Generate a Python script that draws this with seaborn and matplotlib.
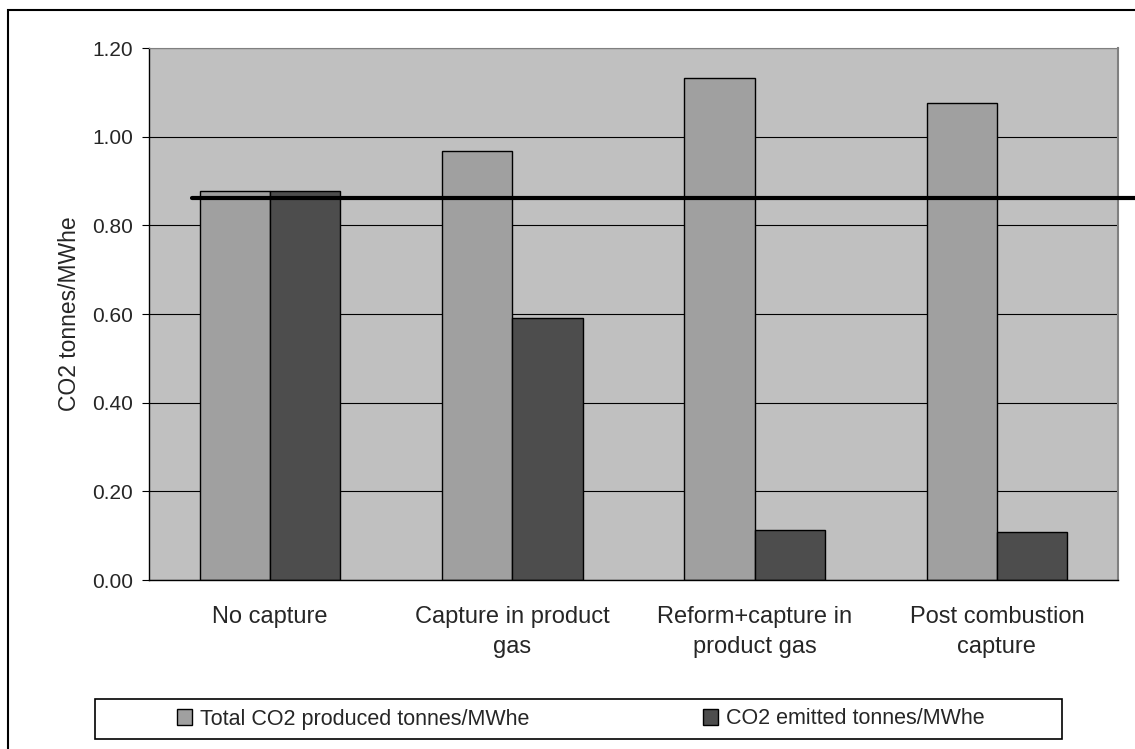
import matplotlib
matplotlib.use("Agg")
import matplotlib.pyplot as plt
import seaborn as sns
import pandas as pd
from matplotlib.patches import Rectangle

# Chart data
categories = ["No capture", "Capture in product\ngas", "Reform+capture in\nproduct gas", "Post combustion\ncapture"]
total_produced = [0.877, 0.968, 1.133, 1.077]
co2_emitted = [0.877, 0.591, 0.113, 0.108]
series_names = ["Total CO2 produced tonnes/MWhe", "CO2 emitted tonnes/MWhe"]
reference_level = 0.862
y_ticks = [0.0, 0.2, 0.4, 0.6, 0.8, 1.0, 1.2]

df = pd.DataFrame({
    "category": categories * 2,
    "value": total_produced + co2_emitted,
    "series": [series_names[0]] * len(categories) + [series_names[1]] * len(categories),
})

sns.set_style("white")
plt.rcParams["font.family"] = ["Liberation Sans", "DejaVu Sans"]

fig = plt.figure(figsize=(11.35, 7.49), dpi=100)
ax = fig.add_axes([149 / 1135, 1 - 580 / 749, 969 / 1135, 532 / 749])
ax.set_facecolor("#C0C0C0")

sns.barplot(data=df, x="category", y="value", hue="series", order=categories,
            hue_order=series_names, palette=["#A0A0A0", "#4D4D4D"],
            width=0.58, edgecolor="black", linewidth=1, saturation=1,
            ax=ax, legend=True)

ax.set_ylim(0, 1.2)
ax.set_xlim(-0.5, len(categories) - 0.5)
ax.set_yticks(y_ticks)
ax.set_yticklabels([f"{t:.2f}" for t in y_ticks], fontsize=15)
ax.yaxis.grid(True, color="black", linewidth=0.8)
ax.set_axisbelow(True)

# category boundaries as minor ticks
ax.set_xticks([i - 0.5 for i in range(len(categories) + 1)], minor=True)
ax.tick_params(axis="x", which="major", length=0, pad=19, labelsize=17)
for lbl in ax.get_xticklabels():
    lbl.set_linespacing(1.45)
ax.tick_params(axis="x", which="minor", length=7, width=0.8, color="black", direction="out")
ax.tick_params(axis="y", length=5, width=0.8, color="black", direction="out", left=True, pad=6.5)

ax.set_xlabel("")
ax.set_ylabel("CO2 tonnes/MWhe", fontsize=16.5, labelpad=8)

for side in ["left", "bottom"]:
    ax.spines[side].set_color("black")
    ax.spines[side].set_linewidth(1)
ax.spines["top"].set_color("#808080")
ax.spines["right"].set_color("#808080")
ax.spines["right"].set_linewidth(1.5)

# reference line
ax.axhline(reference_level, xmin=(192 - 149) / 969, xmax=(1140 - 149) / 969,
           color="black", linewidth=3, clip_on=False, zorder=5)

# legend
handles, labels = ax.get_legend_handles_labels()
ax.get_legend().remove()
leg = fig.legend(handles, labels, ncol=2, frameon=False, fontsize=15.5,
                 loc="center left", bbox_to_anchor=(177 / 1135, 1 - 719 / 749),
                 borderpad=0, borderaxespad=0, handlelength=0.7, handleheight=0.7,
                 handletextpad=0.35, columnspacing=8.1)
fig.patches.append(Rectangle((95 / 1135, 1 - 739 / 749), (1062 - 95) / 1135, 40 / 749,
                             transform=fig.transFigure, fill=False,
                             edgecolor="black", linewidth=1.2))

# outer chart border
fig.patches.append(Rectangle((8 / 1135, -0.1), 1.2, 1.1 - 10 / 749,
                             transform=fig.transFigure, fill=False,
                             edgecolor="black", linewidth=1.5))

fig.savefig("out.png", dpi=100)
